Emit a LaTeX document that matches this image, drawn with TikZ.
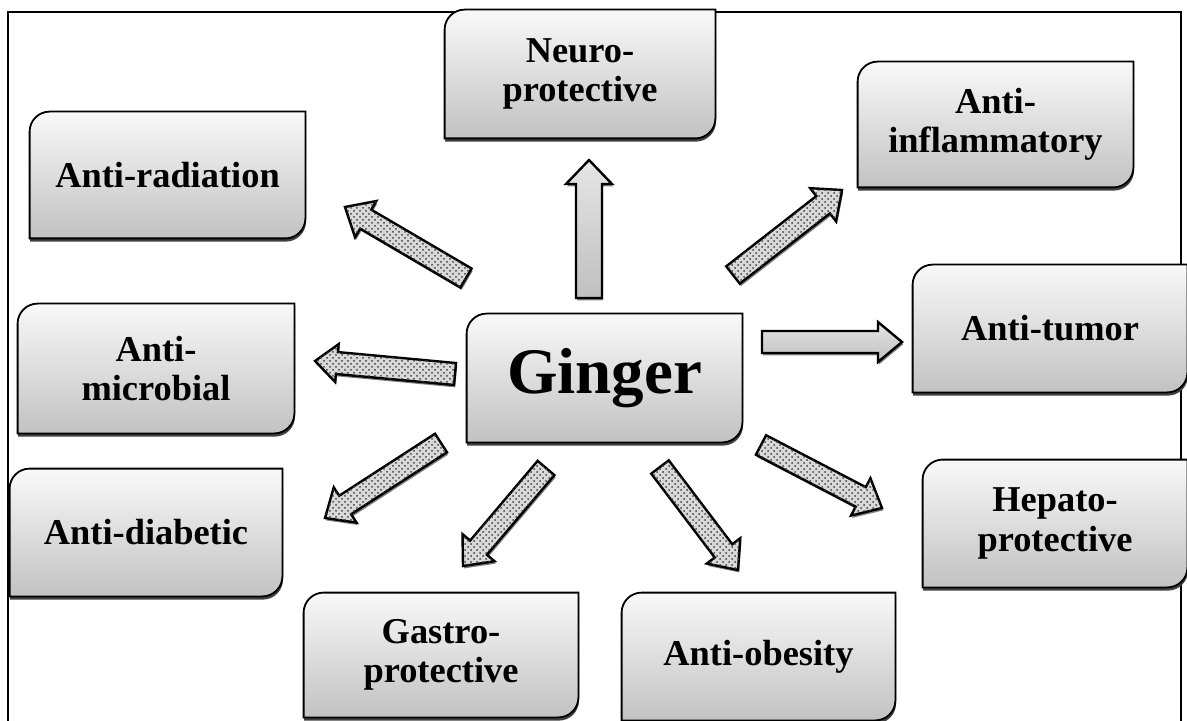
\documentclass[tikz,border=0pt]{standalone}
\usepackage{fontspec}
\setmainfont{Liberation Serif}
\usetikzlibrary{calc,shadows,patterns,backgrounds}
\newcommand\gshape[1]{\path[gfill] ([yshift=-10pt]#1.north west) .. controls ([yshift=-4.5pt]#1.north west) and ([xshift=4.5pt]#1.north west) .. ([xshift=10pt]#1.north west) -- (#1.north east) -- ([yshift=10pt]#1.south east) .. controls ([yshift=4.5pt]#1.south east) and ([xshift=-4.5pt]#1.south east) .. ([xshift=-10pt]#1.south east) -- (#1.south west) -- cycle;}
\newcommand\garrow[7]{%
  \coordinate (#1b) at ($(#3)!#7!(#2)$);
  \path[#4] ($(#2)!#5!90:(#3)$) -- ($(#1b)!#5!-90:(#2)$) -- ($(#1b)!#6!-90:(#2)$) -- (#3) -- ($(#1b)!#6!90:(#2)$) -- ($(#1b)!#5!90:(#2)$) -- ($(#2)!#5!-90:(#3)$) -- cycle;}
\begin{document}
\begin{tikzpicture}[x=0.5pt,y=-0.5pt,
  gbox/.style={inner sep=0pt, align=center, font=\fontsize{18.2}{19.8}\selectfont\bfseries, text=black},
  gfill/.style={draw=black, line width=0.9pt, top color=gray!5, bottom color=gray!48,
    drop shadow={shadow xshift=0.3pt, shadow yshift=-1.6pt, fill=black!75, opacity=1}},
  arrdot/.style={draw=black, line width=1.2pt, line join=miter, fill=gray!30,
    postaction={pattern=crosshatch dots, pattern color=black!75},
    drop shadow={shadow xshift=0.6pt, shadow yshift=-1.2pt, fill=black!50, opacity=1}},
  arrgrad/.style={draw=black, line width=1.2pt, line join=miter, top color=gray!20, bottom color=gray!50,
    drop shadow={shadow xshift=0.6pt, shadow yshift=-1.2pt, fill=black!50, opacity=1}}]
\useasboundingbox (0,0) rectangle (1187,721);
% nodes
\node[gbox, minimum width=137.5pt, minimum height=63pt] (rad) at (167.5,175) {Anti-radiation};
\node[gbox, minimum width=135pt, minimum height=64pt] (neuro) at (580,74) {Neuro-\\protective};
\node[gbox, minimum width=137.5pt, minimum height=62.5pt] (infl) at (995.5,124.5) {Anti-\\inflammatory};
\node[gbox, minimum width=138pt, minimum height=64.5pt] (micro) at (156,368.5) {Anti-\\microbial};
\node[gbox, minimum width=137.5pt, minimum height=64pt, font=\fontsize{32.5}{34}\selectfont\bfseries] (ginger) at (604.5,378) {Ginger};
\node[gbox, minimum width=137pt, minimum height=63.5pt] (tumor) at (1050,328.5) {Anti-tumor};
\node[gbox, minimum width=136pt, minimum height=63.5pt] (diab) at (146,532.5) {Anti-diabetic};
\node[gbox, minimum width=132pt, minimum height=63.5pt] (hep) at (1055,523.5) {Hepato-\\protective};
\node[gbox, minimum width=137pt, minimum height=62pt] (gastro) at (441,655) {Gastro-\\protective};
\node[gbox, minimum width=136.5pt, minimum height=63.5pt] (obes) at (758.5,656.5) {Anti-obesity};
\begin{scope}[on background layer]
\draw[line width=0.8pt] (8,730) -- (8,12) -- (1181,12) -- (1181,730);
\foreach \n in {rad,neuro,infl,micro,ginger,tumor,diab,hep,gastro,obes}{\gshape{\n}}
\end{scope}
% arrow end points
\coordinate (t1) at (466,278); \coordinate (h1) at (345,207);
\coordinate (t2) at (589,298); \coordinate (h2) at (589,160);
\coordinate (t3) at (733,275); \coordinate (h3) at (842,190);
\coordinate (t4) at (762,342); \coordinate (h4) at (902,342);
\coordinate (t5) at (455,374); \coordinate (h5) at (315,361);
\coordinate (t6) at (441,443); \coordinate (h6) at (325,518);
\coordinate (t7) at (546,468); \coordinate (h7) at (463,566);
\coordinate (t8) at (660,467); \coordinate (h8) at (738,570);
\coordinate (t9) at (761,445); \coordinate (h9) at (882,508);
\garrow{a1}{t1}{h1}{arrdot}{5.5pt}{10.5pt}{12pt}
\garrow{a2}{t2}{h2}{arrgrad}{6.5pt}{11.5pt}{12pt}
\garrow{a3}{t3}{h3}{arrdot}{5.5pt}{10.5pt}{12pt}
\garrow{a4}{t4}{h4}{arrgrad}{5.5pt}{10pt}{12pt}
\garrow{a5}{t5}{h5}{arrdot}{5.5pt}{9.5pt}{11pt}
\garrow{a6}{t6}{h6}{arrdot}{5.5pt}{10.5pt}{12pt}
\garrow{a7}{t7}{h7}{arrdot}{5.5pt}{10.5pt}{12pt}
\garrow{a8}{t8}{h8}{arrdot}{5.5pt}{10.5pt}{12pt}
\garrow{a9}{t9}{h9}{arrdot}{5.5pt}{10.5pt}{12pt}
\end{tikzpicture}
\end{document}
